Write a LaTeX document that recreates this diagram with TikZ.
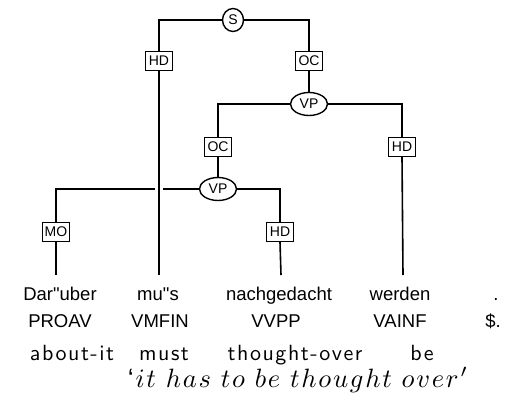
\documentclass[tikz,border=0pt]{standalone}
\usepackage{fontspec}
\setmainfont{Liberation Sans}
\newfontfamily\glossfont{lmsans10-regular.otf}[LetterSpace=7]
\newcommand{\lsp}{\mkern1.2mu}
\newcommand{\wsp}{\hspace{3.7pt}}
\usetikzlibrary{shapes.geometric}
\begin{document}
\begin{tikzpicture}[x=1pt,y=-1pt,line width=1.6pt,
  edgebox/.style={draw,rectangle,line width=1.4pt,inner sep=0pt,minimum width=27pt,minimum height=19pt,font=\fontsize{14}{14}\selectfont,fill=white},
  catnode/.style={draw,ellipse,line width=1.4pt,inner sep=0pt,minimum height=23pt,font=\fontsize{14}{14}\selectfont,fill=white},
  word/.style={anchor=base,inner sep=0pt,font=\fontsize{18.5}{18.5}\selectfont},
  gloss/.style={anchor=base,inner sep=0pt,font=\glossfont\fontsize{22}{22}\selectfont}]
\useasboundingbox (0,0) rectangle (511,420);
% coordinates for line ends
\coordinate (t1) at (56,275);
\coordinate (t2) at (159,275);
\coordinate (t3) at (281,275);
\coordinate (t4) at (403,275);
\coordinate (gL) at (155,189);
\coordinate (gR) at (163,189);
% phrase nodes and edge labels
\node[catnode,minimum width=21pt] (S) at (233,20) {S};
\node[edgebox] (HD1) at (159,61) {HD};
\node[edgebox] (OC1) at (309,61) {OC};
\node[catnode,minimum width=37pt] (VP1) at (309,104) {VP};
\node[edgebox] (OC2) at (218,147) {OC};
\node[edgebox] (HD2) at (402,147) {HD};
\node[catnode,minimum width=37pt] (VP2) at (218,189) {VP};
\node[edgebox] (MO) at (56,232) {MO};
\node[edgebox] (HD3) at (280,232) {HD};
% connectors
\draw (S.west) -| (HD1.north);
\draw (S.east) -| (OC1.north);
\draw (OC1.south) -- (VP1.north);
\draw (VP1.west) -| (OC2.north);
\draw (VP1.east) -| (HD2.north);
\draw (OC2.south) -- (VP2.north);
\draw (VP2.west) -- (gR);
\draw (gL) -| (MO.north);
\draw (VP2.east) -| (HD3.north);
\draw (HD1.south) -- (t2);
\draw (MO.south) -- (t1);
\draw (HD3.south) -- (t3);
\draw (HD2.south) -- (t4);
% words
\node[word] (w1) at (60,300) {Dar\textquotedbl uber};
\node[word] (w2) at (158,300) {mu\textquotedbl s};
\node[word] (w3) at (279,300) {nachgedacht};
\node[word] (w4) at (400,300) {werden};
\node[word] (w5) at (496,300) {.};
\node[word] (p1) at (60,327) {PROAV};
\node[word] (p2) at (160,327) {VMFIN};
\node[word] (p3) at (276,327) {VVPP};
\node[word] (p4) at (400,327) {VAINF};
\node[word] (p5) at (493,327) {\$.};
\node[gloss] (g1) at (72,360) {about-it};
\node[gloss] (g2) at (164,360) {must};
\node[gloss] (g3) at (295,360) {thought-over};
\node[gloss] (g4) at (422,360) {be};
\node[anchor=base,inner sep=0pt] (tr) at (298,387) {\scalebox{2.65}{$`\lsp i\lsp t\wsp h\lsp a\lsp s\wsp t\lsp o\wsp b\lsp e\wsp t\lsp h\lsp o\lsp u\lsp g\lsp h\lsp t\wsp o\lsp v\lsp e\lsp r\lsp'$}};
\end{tikzpicture}
\end{document}
